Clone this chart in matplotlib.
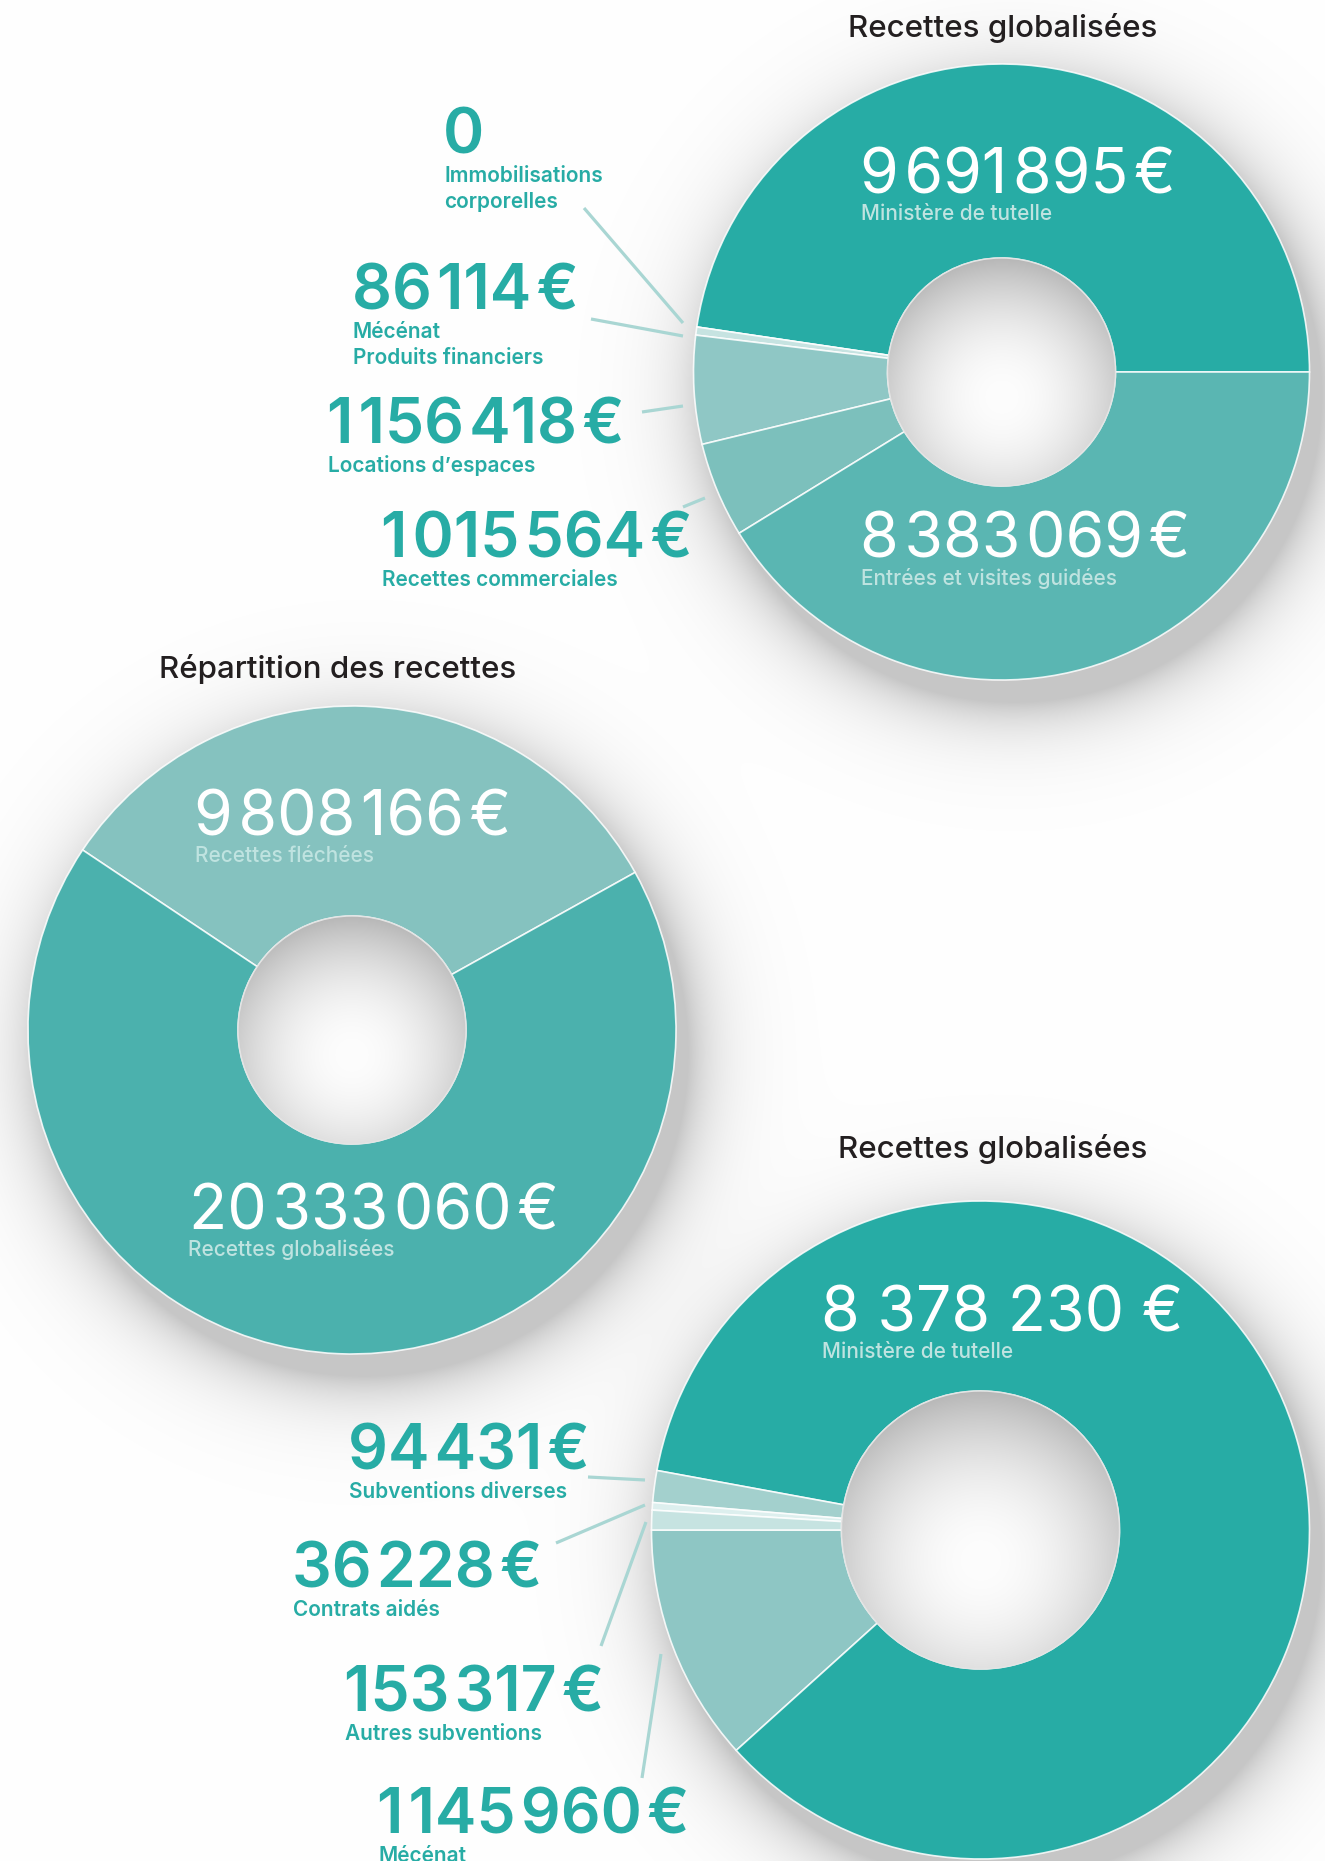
import numpy as np
import matplotlib
matplotlib.use("Agg")
import matplotlib.pyplot as plt
from matplotlib.patches import Circle

W, H = 1325, 1861
FAM = ["Inter", "DejaVu Sans"]

# ---------------- data ----------------
top_title = "Recettes globalisées"
top_labels = ["Ministère de tutelle", "Immobilisations\ncorporelles", "Mécénat\nProduits financiers",
              "Locations d’espaces", "Recettes commerciales", "Entrées et visites guidées"]
top_values = [9691895, 0, 86114, 1156418, 1015564, 8383069]
top_colors = ["#27ACA5", "#C6E3E1", "#C6E3E1", "#8FC7C5", "#7CC0BC", "#5AB6B2"]

mid_title = "Répartition des recettes"
mid_labels = ["Recettes fléchées", "Recettes globalisées"]
mid_values = [9808166, 20333060]
mid_colors = ["#85C2BF", "#4BB1AD"]

bot_title = "Recettes globalisées"
bot_labels = ["Mécénat", "Ministère de tutelle", "Autres subventions", "Contrats aidés", "Subventions diverses"]
bot_values = [1145960, 8378230, 153317, 36228, 94431]
bot_colors = ["#8EC6C4", "#27ACA5", "#A3D0CD", "#DDEFEE", "#C6E3E1"]

TEAL = "#27ACA5"
LEAD = "#A9D6D3"
SUB_ON = "#BFE3E0"


def fmt(v, sep="\u200a"):
    s = f"{v:,}".replace(",", sep)
    return s + sep + "€" if v else s


fig = plt.figure(figsize=(W / 100, H / 100), dpi=100)
ax = fig.add_axes([0, 0, 1, 1])
ax.set_facecolor("white")

donuts = [  # (center x, center y in image px, R, r)
    (1001.5, 372.0, 308.0, 114.0),
    (352.0, 1030.0, 324.0, 114.0),
    (980.5, 1530.0, 329.0, 139.0),
]

# ---- soft drop shadows (background image) ----
yy, xx = np.mgrid[0:H, 0:W].astype(float)
dark = np.zeros((H, W))
for cx, cy, R, r in donuts:
    d = np.hypot(xx - (cx + 12), yy - (cy + 22))
    dark += 0.22 * np.exp(-np.clip(d - R, 0, None) / 32.0)
bg = np.clip(1.0 - dark, 0, 1)
ax.imshow(np.dstack([bg, bg, bg]), extent=[0, W, 0, H], origin="upper", zorder=0,
          interpolation="bilinear")


def donut(values, colors, idx, startangle):
    cx, cyi, R, r = donuts[idx]
    cy = H - cyi
    ax.pie(values, colors=colors, radius=R, center=(cx, cy), startangle=startangle,
           counterclock=True, frame=True,
           wedgeprops=dict(width=R - r, edgecolor=(1, 1, 1, 0.85), linewidth=1.2))
    # hole with inner shading
    n = 300
    gy, gx = np.mgrid[0:n, 0:n].astype(float)
    gx = (gx + 0.5) / n * 2 - 1
    gy = (gy + 0.5) / n * 2 - 1  # image rows downwards
    dist = np.hypot(gx, gy - 0.22) / 1.2
    val = (253 - 68 * np.clip(dist, 0, 1.2) ** 2) / 255.0
    img = np.dstack([val, val, val])
    circ = Circle((cx, cy), r, transform=ax.transData, facecolor="none", edgecolor="none")
    ax.add_patch(circ)
    im = ax.imshow(img, extent=[cx - r, cx + r, cy - r, cy + r], origin="upper", zorder=5,
                   interpolation="bilinear")
    im.set_clip_path(circ)
    ax.add_patch(Circle((cx, cy), r, facecolor="none", edgecolor="#E4E4E4", linewidth=1.0, zorder=6))


donut(top_values, top_colors, 0, 0)
donut(mid_values, mid_colors, 1, 29.1)
donut(bot_values, bot_colors, 2, 180)


def txt(x, yb, s, size, color, weight="normal", ha="left"):
    ax.text(x, H - yb, s, fontsize=size, color=color, fontweight=weight, ha=ha, va="baseline",
            family=FAM, zorder=10)


def multiline(x, yb, s, size, color, weight="normal", step=26):
    for i, line in enumerate(s.split("\n")):
        txt(x, yb + i * step, line, size, color, weight)


BIG = 45.0
SUB = 15.0
TIT = 22.5

# titles
txt(1003, 37, top_title, TIT, "#231F20", "medium", "center")
txt(338, 678, mid_title, TIT, "#231F20", "medium", "center")
txt(993, 1158, bot_title, TIT, "#231F20", "medium", "center")

# top donut inside labels
txt(860, 194, fmt(top_values[0]), BIG, "white")
txt(861, 219.5, top_labels[0], SUB, SUB_ON, "medium")
txt(860, 558, fmt(top_values[5]), BIG, "white")
txt(861, 585, top_labels[5], SUB, SUB_ON, "medium")

# top donut outside labels
outside_top = [  # (index, x, baseline)
    (1, 443, 154),
    (2, 352, 310),
    (3, 327, 444),
    (4, 381, 558),
]
for i, x, yb in outside_top:
    txt(x, yb, fmt(top_values[i]), BIG, TEAL, "semibold")
    multiline(x + 1, yb + 27.5, top_labels[i], SUB, TEAL, "semibold")

# middle donut labels
txt(194, 836, fmt(mid_values[0]), BIG, "white")
txt(195, 862, mid_labels[0], SUB, SUB_ON, "medium")
txt(189, 1229.5, fmt(mid_values[1]), BIG, "white")
txt(188, 1256, mid_labels[1], SUB, SUB_ON, "medium")

# bottom donut labels
txt(821, 1332, fmt(bot_values[1], " "), BIG, "white")
txt(822, 1358, bot_labels[1], SUB, SUB_ON, "medium")
outside_bot = [
    (4, 348, 1470),
    (3, 292, 1588),
    (2, 344, 1712),
    (0, 377, 1834),
]
for i, x, yb in outside_bot:
    txt(x, yb, fmt(bot_values[i]), BIG, TEAL, "semibold")
    txt(x + 1, yb + 27.5, bot_labels[i], SUB, TEAL, "semibold")

# leader lines (annotation layout, image px)
leaders = [
    ((584, 208), (683, 323)),
    ((591, 319), (683, 336)),
    ((642, 412), (683, 406)),
    ((683, 507), (705, 498)),
    ((588, 1477), (645, 1480)),
    ((556, 1543), (645, 1505)),
    ((601, 1646), (646, 1522)),
    ((642, 1778), (661, 1654)),
]
for (x0, y0), (x1, y1) in leaders:
    ax.plot([x0, x1], [H - y0, H - y1], color=LEAD, lw=2.3, solid_capstyle="butt", zorder=4)

ax.set_xlim(0, W)
ax.set_ylim(0, H)
ax.set_aspect("equal")
ax.axis("off")
fig.savefig("out.png", dpi=100, facecolor="white")
